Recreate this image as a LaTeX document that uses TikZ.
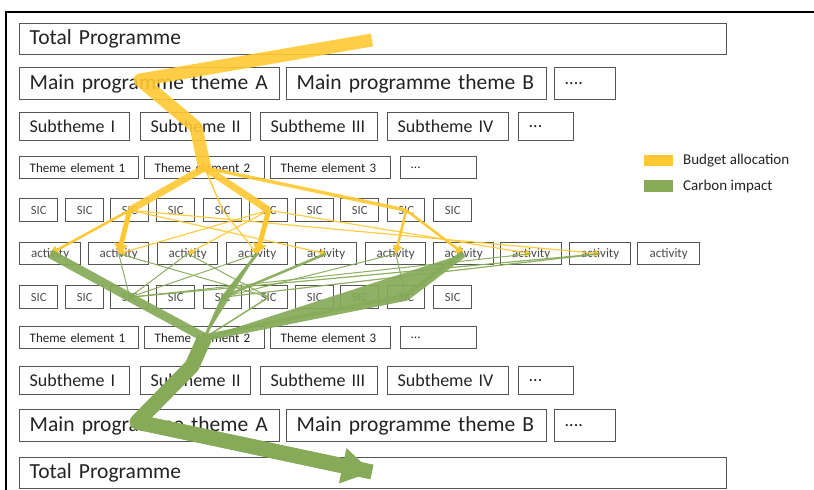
\documentclass[tikz,border=0pt]{standalone}
\usepackage{fontspec}
\setmainfont{Carlito}
\usetikzlibrary{arrows.meta,calc}
\definecolor{budget}{RGB}{255,200,50}
\definecolor{carbon}{RGB}{134,170,88}
\definecolor{boxc}{RGB}{85,85,85}
\definecolor{textc}{RGB}{35,35,35}
\definecolor{smalltext}{RGB}{75,75,75}
\newcommand\mybox[7]{\pgfmathsetmacro\mbw{#4-#2}\pgfmathsetmacro\mbh{#5-#3}\pgfmathsetmacro\mbt{#4-#2-20}\node[#6, anchor=north west, minimum width=\mbw pt, minimum height=\mbh pt] (#1) at (#2,#3) {#7};}
\tikzset{
  box/.style={draw=boxc, line width=1.4pt, inner ysep=0pt, text=textc},
  lbox/.style={box, inner xsep=10pt, text width=\mbt pt, align=left},
  cbox/.style={box, inner xsep=0pt, align=center, text=smalltext},
  fbig/.style={font=\fontsize{21.5}{24}\selectfont},
  fmid/.style={font=\fontsize{18}{20}\selectfont},
  fsmall/.style={font=\fontsize{13}{15}\selectfont},
  fsic/.style={font=\fontsize{12.5}{14}\selectfont},
  yflow/.style={draw=budget, line join=round, draw opacity=0.9, fill=budget, fill opacity=0.9},
  gflow/.style={draw=carbon, line join=round, draw opacity=0.92, fill=carbon, fill opacity=0.92},
  yhead/.style={-{Triangle[width=13pt,length=10pt]}, draw opacity=1, fill opacity=1},
  ymhead/.style={-{Triangle[width=9pt,length=8pt]}, draw opacity=1, fill opacity=1},
  ythead/.style={-{Triangle[width=7pt,length=6pt]}},
}
\begin{document}
\begin{tikzpicture}[x=1pt,y=-1pt]
\useasboundingbox (0,0) rectangle (814,490);
\draw[line width=1.3pt, black] (6,490) -- (6,12) -- (814,12);
% ---------- top half ----------
\mybox{tot1}{19}{23}{726}{54}{lbox,fbig}{Total Programme}
\mybox{ma1}{19}{67}{279}{99}{lbox,fbig}{Main programme theme A}
\mybox{mb1}{286}{67}{546}{99}{lbox,fbig}{Main programme theme B}
\mybox{md1}{554}{67}{615}{99}{lbox,fmid}{....}
\mybox{sta1}{19}{112}{129}{140}{lbox,fmid}{Subtheme I}
\mybox{stb1}{140}{112}{250}{140}{lbox,fmid}{Subtheme II}
\mybox{stc1}{260}{112}{377}{140}{lbox,fmid}{Subtheme III}
\mybox{std1}{387}{112}{508}{140}{lbox,fmid}{Subtheme IV}
\mybox{ste1}{518}{112}{573}{140}{lbox,fmid}{...}
\mybox{tea1}{19}{156}{138}{178}{lbox,fsmall}{Theme element 1}
\mybox{teb1}{144}{156}{264}{178}{lbox,fsmall}{Theme element 2}
\mybox{tec1}{270}{156}{390}{178}{lbox,fsmall}{Theme element 3}
\mybox{ted1}{400}{156}{476}{178}{lbox,fsmall}{...}
\foreach \i/\xa/\xb in {1/19/57,2/65/103,3/110/148,4/156/194,5/203/241,6/249/287,7/295/333,8/340/378,9/387/424,10/433/471}{
  \mybox{sa\i}{\xa}{198}{\xb}{221}{cbox,fsic}{SIC}
  \mybox{sb\i}{\xa}{285}{\xb}{308}{cbox,fsic}{SIC}
}
\foreach \i/\xa/\xb in {1/19/80,2/88/148,3/157/217,4/226/287,5/295/356,6/365/425,7/433/493,8/500/561,9/569/630,10/637/699}{
  \mybox{ua\i}{\xa}{242}{\xb}{264}{cbox,fsmall}{activity}
}
% ---------- bottom half ----------
\mybox{tea2}{19}{326}{138}{348}{lbox,fsmall}{Theme element 1}
\mybox{teb2}{144}{326}{264}{348}{lbox,fsmall}{Theme element 2}
\mybox{tec2}{270}{326}{390}{348}{lbox,fsmall}{Theme element 3}
\mybox{ted2}{400}{326}{476}{348}{lbox,fsmall}{...}
\mybox{sta2}{19}{366}{129}{394}{lbox,fmid}{Subtheme I}
\mybox{stb2}{140}{366}{250}{394}{lbox,fmid}{Subtheme II}
\mybox{stc2}{260}{366}{377}{394}{lbox,fmid}{Subtheme III}
\mybox{std2}{387}{366}{508}{394}{lbox,fmid}{Subtheme IV}
\mybox{ste2}{518}{366}{573}{394}{lbox,fmid}{...}
\mybox{ma2}{19}{409}{279}{441}{lbox,fbig}{Main programme theme A}
\mybox{mb2}{286}{409}{546}{441}{lbox,fbig}{Main programme theme B}
\mybox{md2}{554}{409}{615}{441}{lbox,fmid}{....}
\mybox{tot2}{19}{457}{726}{488}{lbox,fbig}{Total Programme}
% ---------- legend ----------
\node[fill=budget, minimum width=29pt, minimum height=11pt, inner sep=0pt, anchor=north west] (legy) at (644,155) {};
\node[anchor=west, inner sep=0pt, text=textc, font=\fontsize{15}{17}\selectfont] (legyt) at (683,160.5) {Budget allocation};
\node[fill=carbon, minimum width=29pt, minimum height=12pt, inner sep=0pt, anchor=north west] (legg) at (644,180) {};
\node[anchor=west, inner sep=0pt, text=textc, font=\fontsize{15}{17}\selectfont] (leggt) at (683,186) {Carbon impact};
% ---------- budget flows ----------
\coordinate (yA) at (372,40);
\coordinate (yB) at (140,80);
\coordinate (yC) at (196,127);
\draw[yflow, fill=none, line width=13pt] (yA) -- (yB) -- (yC) -- (teb1.center);
\draw[yflow, line width=7pt] (teb1.center) -- (sa3.center);
\draw[yflow, line width=7pt] (teb1.center) -- (sa6.center);
\draw[yflow, line width=3.5pt] (teb1.center) -- (sa9.center);
\draw[yflow, line width=1.5pt] (teb1.center) -- (sa5.center);
\draw[yflow, line width=5pt, yhead] (sa3.center) -- (ua2.center);
\draw[yflow, line width=5pt, yhead] (sa6.center) -- (ua4.center);
\draw[yflow, line width=2.5pt, ymhead] (sa3.center) -- (ua1.center);
\draw[yflow, line width=2.5pt, ymhead] (sa9.center) -- (ua6.center);
\draw[yflow, line width=2.5pt, ymhead] (sa9.center) -- (ua7.center);
\draw[yflow, line width=1.2pt, ythead] (sa5.center) -- (ua4.center);
\draw[yflow, line width=1.2pt, ythead] (sa3.center) -- (ua5.center);
\draw[yflow, line width=1.2pt, ythead] (sa3.center) -- (ua9.center);
\draw[yflow, line width=1.2pt, ythead] (sa6.center) -- (ua3.center);
\draw[yflow, line width=1.2pt, ythead] (sa6.center) -- (ua2.center);
\draw[yflow, line width=1.2pt, ythead] (sa6.center) -- (ua8.center);
% ---------- carbon flows ----------
\coordinate (gA) at (192,366);
\coordinate (gB) at (137,422);
\coordinate (gT) at (372,472);
\draw[gflow, line width=1pt] (ua2.center) -- (sb3.center);
\draw[gflow, line width=1pt] (ua2.center) -- (sb6.center);
\draw[gflow, line width=1pt] (ua3.center) -- (sb3.center);
\draw[gflow, line width=1pt] (ua3.center) -- (sb6.center);
\draw[gflow, line width=1pt] (ua4.center) -- (sb3.center);
\draw[gflow, line width=1pt] (ua6.center) -- (sb9.center);
\draw[gflow, line width=1pt] (ua6.center) -- (sb5.center);
\draw[gflow, line width=1pt] (ua8.center) -- (sb3.center);
\draw[gflow, line width=1.2pt] (ua9.center) -- (sb5.center);
\draw[gflow, line width=1.2pt] (ua9.center) -- (sb3.center);
\draw[gflow, line width=1.5pt] (sb6.center) -- (teb2.center);
\draw[gflow, line width=2.5pt] (ua5.center) -- (sb5.center);
\draw[gflow, line width=3pt] (ua4.center) -- (sb5.center) -- (teb2.center);
\draw[gflow, line width=7pt] (ua7.center) -- (sb9.center) -- (teb2.center);
\draw[gflow, line width=9pt] (ua1.center) -- (sb3.center) -- (teb2.center);
\draw[gflow, fill=none, draw opacity=1, line width=15pt] (teb2.center) -- (gA) -- (gB) -- (gT);
\draw[carbon, line width=15pt, -{Triangle[width=34pt,length=30pt]}] (gB) -- (gT);
\end{tikzpicture}
\end{document}
